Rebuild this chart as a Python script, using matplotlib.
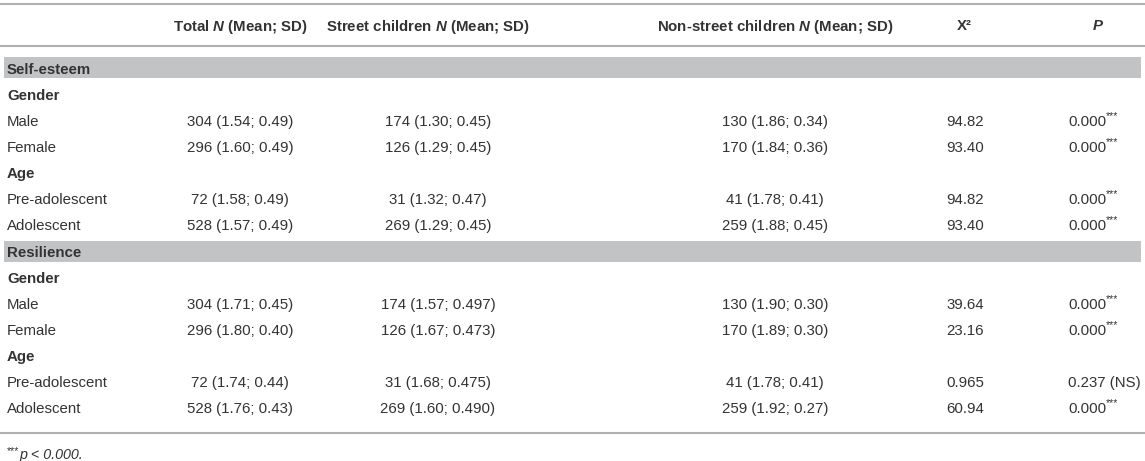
import matplotlib.pyplot as plt

plt.rcParams['font.family'] = ['Liberation Sans', 'DejaVu Sans']
plt.rcParams['mathtext.fontset'] = 'custom'
plt.rcParams['mathtext.rm'] = 'Liberation Sans'
plt.rcParams['mathtext.it'] = 'Liberation Sans:italic'
plt.rcParams['mathtext.bf'] = 'Liberation Sans:bold'
plt.rcParams['mathtext.bfit'] = 'Liberation Sans:bold:italic'

headers = [r"Total $\mathbfit{N}$ (Mean; SD)",
           r"Street children $\mathbfit{N}$ (Mean; SD)",
           r"Non-street children $\mathbfit{N}$ (Mean; SD)",
           "X²"]
sections = ["Self-esteem", "Resilience"]
groups = ["Gender", "Age"]
row_labels = [["Male", "Female"], ["Pre-adolescent", "Adolescent"]]

se_total = ["304 (1.54; 0.49)", "296 (1.60; 0.49)", "72 (1.58; 0.49)", "528 (1.57; 0.49)"]
se_street = ["174 (1.30; 0.45)", "126 (1.29; 0.45)", "31 (1.32; 0.47)", "269 (1.29; 0.45)"]
se_non = ["130 (1.86; 0.34)", "170 (1.84; 0.36)", "41 (1.78; 0.41)", "259 (1.88; 0.45)"]
se_chi = ["94.82", "93.40", "94.82", "93.40"]
se_p = ["0.000", "0.000", "0.000", "0.000"]
se_sig = ["***", "***", "***", "***"]

re_total = ["304 (1.71; 0.45)", "296 (1.80; 0.40)", "72 (1.74; 0.44)", "528 (1.76; 0.43)"]
re_street = ["174 (1.57; 0.497)", "126 (1.67; 0.473)", "31 (1.68; 0.475)", "269 (1.60; 0.490)"]
re_non = ["130 (1.90; 0.30)", "170 (1.89; 0.30)", "41 (1.78; 0.41)", "259 (1.92; 0.27)"]
re_chi = ["39.64", "23.16", "0.965", "60.94"]
re_p = ["0.000", "0.000", "0.237 (NS)", "0.000"]
re_sig = ["***", "***", "", "***"]

W, H = 1145, 461
fig = plt.figure(figsize=(W / 100, H / 100), dpi=100)
ax = fig.add_axes([0, 0, 1, 1])
ax.set_xlim(0, W)
ax.set_ylim(H, 0)
ax.axis('off')

txt = '#333333'
line_c = '#b0b0b0'
bar_c = '#c2c3c5'
fs = 10.8
head_x = [240, 428, 775, 964]
col_x = [240, 438, 775, 965]
p_x = 1068
row_h = 26.15
dy = 1.5  # nudge text down so it sits visually centred in its row

ax.axhline(4, color=line_c, lw=1.5)
ax.axhline(46, color=line_c, lw=1.5)
for h, x in zip(headers, head_x):
    ax.text(x, 25 + dy, h, ha='center', va='center', fontsize=fs, fontweight='bold', color=txt)
ax.text(1098, 25 + dy, "P", ha='center', va='center', fontsize=fs, fontweight='bold',
        style='italic', color=txt)

cols_all = [(se_total, se_street, se_non, se_chi, se_p, se_sig),
            (re_total, re_street, re_non, re_chi, re_p, re_sig)]

y = 68
for sec, cols in zip(sections, cols_all):
    ax.add_patch(plt.Rectangle((4, y - 10.5), 1137, 21, color=bar_c, lw=0))
    ax.text(7, y + dy, sec, ha='left', va='center', fontsize=fs, fontweight='bold', color=txt)
    y += row_h
    i = 0
    for g, labels in zip(groups, row_labels):
        ax.text(7, y + dy, g, ha='left', va='center', fontsize=fs, fontweight='bold', color=txt)
        y += row_h
        for lab in labels:
            ax.text(7, y + dy, lab, ha='left', va='center', fontsize=fs, color=txt)
            for c, x in zip(cols[:4], col_x):
                ax.text(x, y + dy, c[i], ha='center', va='center', fontsize=fs, color=txt)
            t = ax.text(p_x, y + dy, cols[4][i], ha='left', va='center', fontsize=fs, color=txt)
            if cols[5][i]:
                ax.annotate(cols[5][i], xy=(1, 0.92), xycoords=t, ha='left', va='center',
                            fontsize=7.5, color=txt)
            y += row_h
            i += 1

ax.axhline(433, color=line_c, lw=1.5)
t = ax.text(7, 451, "***", ha='left', va='center', fontsize=7.5, color=txt)
ax.annotate("p < 0.000.", xy=(1, 0.1), xycoords=t, ha='left', va='center',
            fontsize=fs - 0.5, style='italic', color=txt)

fig.savefig('out.png', dpi=100)
